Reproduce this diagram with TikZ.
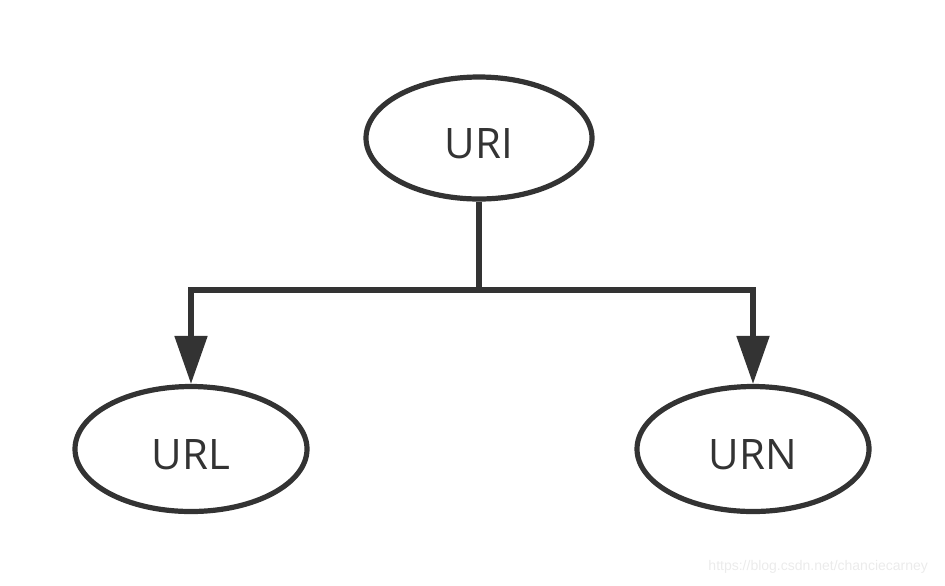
\documentclass[tikz,border=0pt]{standalone}
\usepackage{fontspec}
\setmainfont{Open Sans}
\newfontfamily\markfont{Liberation Sans}
\usepackage{tikz}
\usetikzlibrary{positioning,shapes,arrows.meta,calc}
\definecolor{ink}{HTML}{333333}

\begin{document}
\begin{tikzpicture}[x=0.5pt,y=-0.5pt,
    oval/.style={ellipse,draw=ink,line width=2.6pt,text=ink,text height=20pt,text depth=0pt,
      minimum width=113pt,minimum height=61pt,font=\fontsize{21}{24}\selectfont},
    link/.style={draw=ink,line width=2.6pt},
    tip/.style={-{Triangle[length=24pt,width=16pt]}}]
    \useasboundingbox (0,0) rectangle (945,585);
    \node[oval] (uri) at (479,138) {URI};
    \node[oval,minimum width=116pt,minimum height=62.5pt] (url) at (191,449) {URL};
    \node[oval,minimum width=116pt,minimum height=62.5pt] (urn) at (753,449) {URN};
    \coordinate (split) at (479,290);
    \draw[link] (uri.south) -- (split);
    \draw[link,tip] (split) -| (url.north);
    \draw[link,tip] (split) -| (urn.north);
    \node[anchor=south east,text=black!8,font=\markfont\fontsize{7}{8}\selectfont] (mark) at (935,580) {https://blog.csdn.net/chanciecarney};
  \end{tikzpicture}
\end{document}
